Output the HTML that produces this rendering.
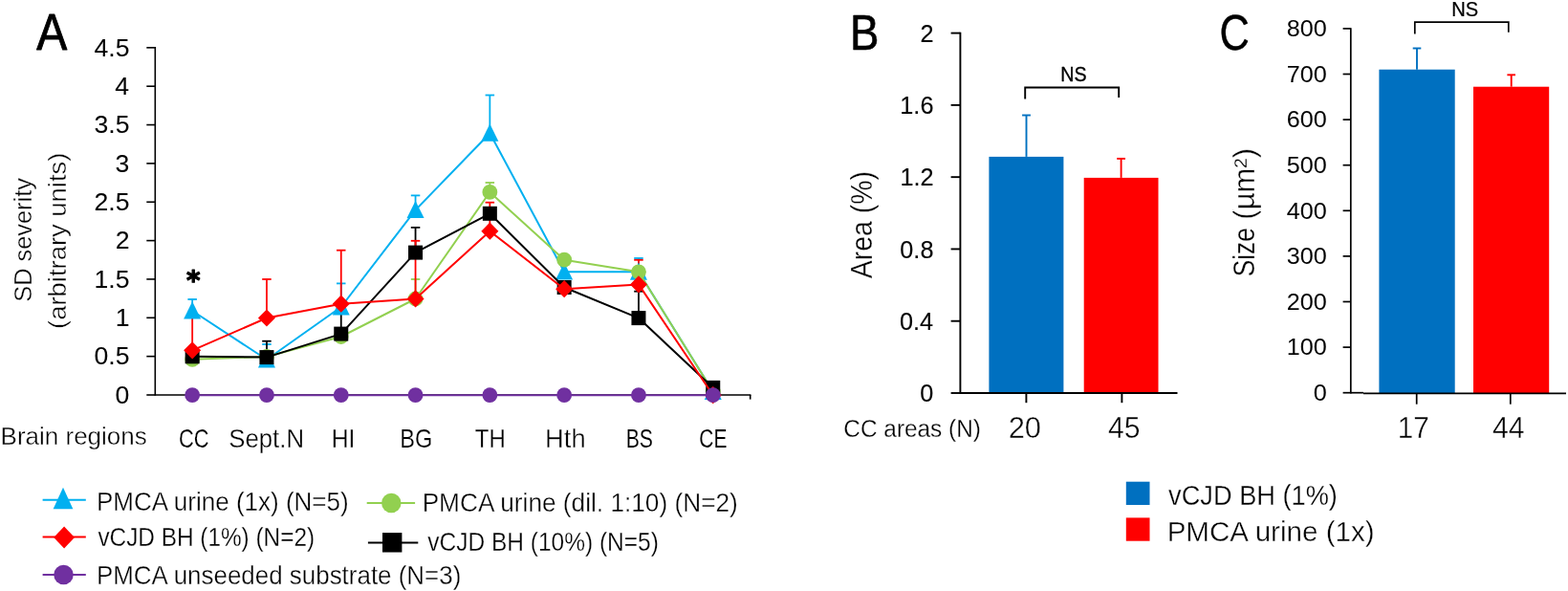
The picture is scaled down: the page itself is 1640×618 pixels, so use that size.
<!DOCTYPE html>
<html lang="en">
<head>
<meta charset="utf-8">
<title>Figure</title>
<style>
html,body{margin:0;padding:0;background:#fff;}
body{width:1640px;height:618px;overflow:hidden;}
svg{display:block;}
svg text{font-family:"Liberation Sans",sans-serif;fill:#000;white-space:pre;}
</style>
</head>
<body>
<svg width="1640" height="618" viewBox="0 0 1640 618">
<rect width="1640" height="618" fill="#fff"/>
<g>
<line x1="162.30" y1="49.00" x2="162.30" y2="413.80" stroke="#000000" stroke-width="1.6" stroke-linecap="butt"/>
<line x1="153.30" y1="413.00" x2="162.30" y2="413.00" stroke="#000000" stroke-width="1.6" stroke-linecap="butt"/>
<line x1="153.30" y1="372.65" x2="162.30" y2="372.65" stroke="#000000" stroke-width="1.6" stroke-linecap="butt"/>
<line x1="153.30" y1="332.30" x2="162.30" y2="332.30" stroke="#000000" stroke-width="1.6" stroke-linecap="butt"/>
<line x1="153.30" y1="291.95" x2="162.30" y2="291.95" stroke="#000000" stroke-width="1.6" stroke-linecap="butt"/>
<line x1="153.30" y1="251.60" x2="162.30" y2="251.60" stroke="#000000" stroke-width="1.6" stroke-linecap="butt"/>
<line x1="153.30" y1="211.25" x2="162.30" y2="211.25" stroke="#000000" stroke-width="1.6" stroke-linecap="butt"/>
<line x1="153.30" y1="170.90" x2="162.30" y2="170.90" stroke="#000000" stroke-width="1.6" stroke-linecap="butt"/>
<line x1="153.30" y1="130.55" x2="162.30" y2="130.55" stroke="#000000" stroke-width="1.6" stroke-linecap="butt"/>
<line x1="153.30" y1="90.20" x2="162.30" y2="90.20" stroke="#000000" stroke-width="1.6" stroke-linecap="butt"/>
<line x1="153.30" y1="49.85" x2="162.30" y2="49.85" stroke="#000000" stroke-width="1.6" stroke-linecap="butt"/>
<line x1="162.30" y1="413.00" x2="785.40" y2="413.00" stroke="#000000" stroke-width="1.6" stroke-linecap="butt"/>
<line x1="784.70" y1="413.00" x2="784.70" y2="417.60" stroke="#000000" stroke-width="1.6" stroke-linecap="butt"/>
<line x1="201.15" y1="325.00" x2="201.15" y2="313.00" stroke="#00B0F0" stroke-width="1.8" stroke-linecap="butt"/>
<line x1="196.40" y1="313.00" x2="205.90" y2="313.00" stroke="#00B0F0" stroke-width="1.8" stroke-linecap="butt"/>
<line x1="278.95" y1="376.00" x2="278.95" y2="360.00" stroke="#00B0F0" stroke-width="1.8" stroke-linecap="butt"/>
<line x1="274.20" y1="360.00" x2="283.70" y2="360.00" stroke="#00B0F0" stroke-width="1.8" stroke-linecap="butt"/>
<line x1="356.75" y1="321.00" x2="356.75" y2="296.40" stroke="#00B0F0" stroke-width="1.8" stroke-linecap="butt"/>
<line x1="352.00" y1="296.40" x2="361.50" y2="296.40" stroke="#00B0F0" stroke-width="1.8" stroke-linecap="butt"/>
<line x1="434.55" y1="219.60" x2="434.55" y2="204.40" stroke="#00B0F0" stroke-width="1.8" stroke-linecap="butt"/>
<line x1="429.80" y1="204.40" x2="439.30" y2="204.40" stroke="#00B0F0" stroke-width="1.8" stroke-linecap="butt"/>
<line x1="512.35" y1="139.30" x2="512.35" y2="99.50" stroke="#00B0F0" stroke-width="1.8" stroke-linecap="butt"/>
<line x1="507.60" y1="99.50" x2="517.10" y2="99.50" stroke="#00B0F0" stroke-width="1.8" stroke-linecap="butt"/>
<line x1="667.95" y1="284.30" x2="667.95" y2="270.00" stroke="#00B0F0" stroke-width="1.8" stroke-linecap="butt"/>
<line x1="663.20" y1="270.00" x2="672.70" y2="270.00" stroke="#00B0F0" stroke-width="1.8" stroke-linecap="butt"/>
<line x1="434.55" y1="312.50" x2="434.55" y2="292.00" stroke="#92D050" stroke-width="1.8" stroke-linecap="butt"/>
<line x1="429.80" y1="292.00" x2="439.30" y2="292.00" stroke="#92D050" stroke-width="1.8" stroke-linecap="butt"/>
<line x1="512.35" y1="200.90" x2="512.35" y2="191.00" stroke="#92D050" stroke-width="1.8" stroke-linecap="butt"/>
<line x1="507.60" y1="191.00" x2="517.10" y2="191.00" stroke="#92D050" stroke-width="1.8" stroke-linecap="butt"/>
<line x1="278.95" y1="373.60" x2="278.95" y2="356.70" stroke="#000000" stroke-width="1.8" stroke-linecap="butt"/>
<line x1="274.20" y1="356.70" x2="283.70" y2="356.70" stroke="#000000" stroke-width="1.8" stroke-linecap="butt"/>
<line x1="356.75" y1="349.10" x2="356.75" y2="324.00" stroke="#000000" stroke-width="1.8" stroke-linecap="butt"/>
<line x1="352.00" y1="324.00" x2="361.50" y2="324.00" stroke="#000000" stroke-width="1.8" stroke-linecap="butt"/>
<line x1="434.55" y1="264.10" x2="434.55" y2="237.90" stroke="#000000" stroke-width="1.8" stroke-linecap="butt"/>
<line x1="429.80" y1="237.90" x2="439.30" y2="237.90" stroke="#000000" stroke-width="1.8" stroke-linecap="butt"/>
<line x1="667.95" y1="332.60" x2="667.95" y2="304.70" stroke="#000000" stroke-width="1.8" stroke-linecap="butt"/>
<line x1="663.20" y1="304.70" x2="672.70" y2="304.70" stroke="#000000" stroke-width="1.8" stroke-linecap="butt"/>
<line x1="201.15" y1="366.30" x2="201.15" y2="329.00" stroke="#FF0000" stroke-width="1.8" stroke-linecap="butt"/>
<line x1="196.40" y1="329.00" x2="205.90" y2="329.00" stroke="#FF0000" stroke-width="1.8" stroke-linecap="butt"/>
<line x1="278.95" y1="332.50" x2="278.95" y2="292.00" stroke="#FF0000" stroke-width="1.8" stroke-linecap="butt"/>
<line x1="274.20" y1="292.00" x2="283.70" y2="292.00" stroke="#FF0000" stroke-width="1.8" stroke-linecap="butt"/>
<line x1="356.75" y1="317.70" x2="356.75" y2="261.70" stroke="#FF0000" stroke-width="1.8" stroke-linecap="butt"/>
<line x1="352.00" y1="261.70" x2="361.50" y2="261.70" stroke="#FF0000" stroke-width="1.8" stroke-linecap="butt"/>
<line x1="434.55" y1="312.40" x2="434.55" y2="251.80" stroke="#FF0000" stroke-width="1.8" stroke-linecap="butt"/>
<line x1="429.80" y1="251.80" x2="439.30" y2="251.80" stroke="#FF0000" stroke-width="1.8" stroke-linecap="butt"/>
<line x1="512.35" y1="241.70" x2="512.35" y2="211.70" stroke="#FF0000" stroke-width="1.8" stroke-linecap="butt"/>
<line x1="507.60" y1="211.70" x2="517.10" y2="211.70" stroke="#FF0000" stroke-width="1.8" stroke-linecap="butt"/>
<line x1="667.95" y1="297.40" x2="667.95" y2="271.80" stroke="#FF0000" stroke-width="1.8" stroke-linecap="butt"/>
<line x1="663.20" y1="271.80" x2="672.70" y2="271.80" stroke="#FF0000" stroke-width="1.8" stroke-linecap="butt"/>
<polyline fill="none" stroke="#00B0F0" stroke-width="2.0" stroke-linejoin="round" points="201.15,325.00 278.95,376.00 356.75,321.00 434.55,219.60 512.35,139.30 590.15,284.20 667.95,284.30 745.75,409.50"/>
<polygon fill="#00B0F0" points="201.15,315.30 210.15,333.40 192.15,333.40"/>
<polygon fill="#00B0F0" points="278.95,366.30 287.95,384.40 269.95,384.40"/>
<polygon fill="#00B0F0" points="356.75,311.30 365.75,329.40 347.75,329.40"/>
<polygon fill="#00B0F0" points="434.55,209.90 443.55,228.00 425.55,228.00"/>
<polygon fill="#00B0F0" points="512.35,129.60 521.35,147.70 503.35,147.70"/>
<polygon fill="#00B0F0" points="590.15,274.50 599.15,292.60 581.15,292.60"/>
<polygon fill="#00B0F0" points="667.95,274.60 676.95,292.70 658.95,292.70"/>
<polygon fill="#00B0F0" points="745.75,399.80 754.75,417.90 736.75,417.90"/>
<polyline fill="none" stroke="#92D050" stroke-width="2.0" stroke-linejoin="round" points="201.15,375.80 278.95,373.00 356.75,352.00 434.55,312.50 512.35,200.90 590.15,271.70 667.95,284.30 745.75,409.50"/>
<circle cx="201.15" cy="375.80" r="7.9" fill="#92D050"/>
<circle cx="278.95" cy="373.00" r="7.9" fill="#92D050"/>
<circle cx="356.75" cy="352.00" r="7.9" fill="#92D050"/>
<circle cx="434.55" cy="312.50" r="7.9" fill="#92D050"/>
<circle cx="512.35" cy="200.90" r="7.9" fill="#92D050"/>
<circle cx="590.15" cy="271.70" r="7.9" fill="#92D050"/>
<circle cx="667.95" cy="284.30" r="7.9" fill="#92D050"/>
<circle cx="745.75" cy="409.50" r="7.9" fill="#92D050"/>
<polyline fill="none" stroke="#000000" stroke-width="2.0" stroke-linejoin="round" points="201.15,372.80 278.95,373.60 356.75,349.10 434.55,264.10 512.35,223.30 590.15,300.50 667.95,332.60 745.75,405.40"/>
<rect x="193.65" y="365.30" width="15.00" height="15.00" fill="#000000"/>
<rect x="271.45" y="366.10" width="15.00" height="15.00" fill="#000000"/>
<rect x="349.25" y="341.60" width="15.00" height="15.00" fill="#000000"/>
<rect x="427.05" y="256.60" width="15.00" height="15.00" fill="#000000"/>
<rect x="504.85" y="215.80" width="15.00" height="15.00" fill="#000000"/>
<rect x="582.65" y="293.00" width="15.00" height="15.00" fill="#000000"/>
<rect x="660.45" y="325.10" width="15.00" height="15.00" fill="#000000"/>
<rect x="738.25" y="397.90" width="15.00" height="15.00" fill="#000000"/>
<polyline fill="none" stroke="#FF0000" stroke-width="2.0" stroke-linejoin="round" points="201.15,366.30 278.95,332.50 356.75,317.70 434.55,312.40 512.35,241.70 590.15,302.20 667.95,297.40 745.75,413.20"/>
<polygon fill="#FF0000" points="201.15,357.20 210.15,366.30 201.15,375.40 192.15,366.30"/>
<polygon fill="#FF0000" points="278.95,323.40 287.95,332.50 278.95,341.60 269.95,332.50"/>
<polygon fill="#FF0000" points="356.75,308.60 365.75,317.70 356.75,326.80 347.75,317.70"/>
<polygon fill="#FF0000" points="434.55,303.30 443.55,312.40 434.55,321.50 425.55,312.40"/>
<polygon fill="#FF0000" points="512.35,232.60 521.35,241.70 512.35,250.80 503.35,241.70"/>
<polygon fill="#FF0000" points="590.15,293.10 599.15,302.20 590.15,311.30 581.15,302.20"/>
<polygon fill="#FF0000" points="667.95,288.30 676.95,297.40 667.95,306.50 658.95,297.40"/>
<polygon fill="#FF0000" points="745.75,404.10 754.75,413.20 745.75,422.30 736.75,413.20"/>
<polyline fill="none" stroke="#7030A0" stroke-width="2.0" stroke-linejoin="round" points="201.15,413.20 278.95,413.20 356.75,413.20 434.55,413.20 512.35,413.20 590.15,413.20 667.95,413.20 745.75,413.20"/>
<circle cx="201.15" cy="413.20" r="7.9" fill="#7030A0"/>
<circle cx="278.95" cy="413.20" r="7.9" fill="#7030A0"/>
<circle cx="356.75" cy="413.20" r="7.9" fill="#7030A0"/>
<circle cx="434.55" cy="413.20" r="7.9" fill="#7030A0"/>
<circle cx="512.35" cy="413.20" r="7.9" fill="#7030A0"/>
<circle cx="590.15" cy="413.20" r="7.9" fill="#7030A0"/>
<circle cx="667.95" cy="413.20" r="7.9" fill="#7030A0"/>
<circle cx="745.75" cy="413.20" r="7.9" fill="#7030A0"/>
<line x1="44.60" y1="522.80" x2="89.80" y2="522.80" stroke="#00B0F0" stroke-width="2" stroke-linecap="butt"/>
<polygon fill="#00B0F0" points="66.00,509.65 76.35,532.35 55.65,532.35"/>
<line x1="44.60" y1="561.60" x2="89.80" y2="561.60" stroke="#FF0000" stroke-width="2" stroke-linecap="butt"/>
<polygon fill="#FF0000" points="67.10,550.55 77.95,562.00 67.10,573.45 56.25,562.00"/>
<line x1="44.60" y1="600.90" x2="89.80" y2="600.90" stroke="#7030A0" stroke-width="2" stroke-linecap="butt"/>
<circle cx="66.50" cy="600.90" r="10.25" fill="#7030A0"/>
<line x1="383.70" y1="526.00" x2="434.10" y2="526.00" stroke="#92D050" stroke-width="2" stroke-linecap="butt"/>
<circle cx="409.30" cy="526.00" r="10.25" fill="#92D050"/>
<line x1="384.90" y1="567.40" x2="437.30" y2="567.40" stroke="#000000" stroke-width="2" stroke-linecap="butt"/>
<rect x="400.00" y="557.10" width="20.40" height="20.40" fill="#000000"/>
<rect x="1034.40" y="163.90" width="78.00" height="247.10" fill="#0070C0"/>
<rect x="1133.70" y="185.90" width="77.80" height="225.10" fill="#FF0000"/>
<line x1="1073.50" y1="163.90" x2="1073.50" y2="120.50" stroke="#0070C0" stroke-width="1.9" stroke-linecap="butt"/>
<line x1="1069.10" y1="120.50" x2="1077.90" y2="120.50" stroke="#0070C0" stroke-width="1.9" stroke-linecap="butt"/>
<line x1="1172.60" y1="185.90" x2="1172.60" y2="165.90" stroke="#FF0000" stroke-width="1.9" stroke-linecap="butt"/>
<line x1="1168.20" y1="165.90" x2="1177.00" y2="165.90" stroke="#FF0000" stroke-width="1.9" stroke-linecap="butt"/>
<line x1="1004.40" y1="33.65" x2="1004.40" y2="411.95" stroke="#000000" stroke-width="1.9" stroke-linecap="butt"/>
<line x1="994.60" y1="411.00" x2="1004.40" y2="411.00" stroke="#000000" stroke-width="1.9" stroke-linecap="butt"/>
<line x1="994.60" y1="335.72" x2="1004.40" y2="335.72" stroke="#000000" stroke-width="1.9" stroke-linecap="butt"/>
<line x1="994.60" y1="260.44" x2="1004.40" y2="260.44" stroke="#000000" stroke-width="1.9" stroke-linecap="butt"/>
<line x1="994.60" y1="185.16" x2="1004.40" y2="185.16" stroke="#000000" stroke-width="1.9" stroke-linecap="butt"/>
<line x1="994.60" y1="109.88" x2="1004.40" y2="109.88" stroke="#000000" stroke-width="1.9" stroke-linecap="butt"/>
<line x1="994.60" y1="34.60" x2="1004.40" y2="34.60" stroke="#000000" stroke-width="1.9" stroke-linecap="butt"/>
<line x1="1004.40" y1="411.00" x2="1231.50" y2="411.00" stroke="#000000" stroke-width="1.9" stroke-linecap="butt"/>
<line x1="1073.40" y1="411.00" x2="1073.40" y2="421.20" stroke="#000000" stroke-width="1.9" stroke-linecap="butt"/>
<line x1="1173.40" y1="411.00" x2="1173.40" y2="421.20" stroke="#000000" stroke-width="1.9" stroke-linecap="butt"/>
<polyline fill="none" stroke="#000" stroke-width="1.9" points="1072.2,103.4 1072.2,91.5 1170.2,91.5 1170.2,102"/>
<rect x="1177.80" y="503.70" width="24.70" height="24.30" fill="#0070C0"/>
<rect x="1177.80" y="541.40" width="24.70" height="24.30" fill="#FF0000"/>
<rect x="1442.40" y="72.70" width="79.30" height="338.30" fill="#0070C0"/>
<rect x="1541.00" y="90.70" width="79.20" height="320.30" fill="#FF0000"/>
<line x1="1482.00" y1="72.70" x2="1482.00" y2="50.50" stroke="#0070C0" stroke-width="1.9" stroke-linecap="butt"/>
<line x1="1477.70" y1="50.50" x2="1486.30" y2="50.50" stroke="#0070C0" stroke-width="1.9" stroke-linecap="butt"/>
<line x1="1580.70" y1="90.70" x2="1580.70" y2="78.30" stroke="#FF0000" stroke-width="1.9" stroke-linecap="butt"/>
<line x1="1576.40" y1="78.30" x2="1585.00" y2="78.30" stroke="#FF0000" stroke-width="1.9" stroke-linecap="butt"/>
<line x1="1412.80" y1="29.15" x2="1412.80" y2="411.55" stroke="#000000" stroke-width="1.7" stroke-linecap="butt"/>
<line x1="1404.60" y1="410.70" x2="1412.80" y2="410.70" stroke="#000000" stroke-width="1.7" stroke-linecap="butt"/>
<line x1="1404.60" y1="363.10" x2="1412.80" y2="363.10" stroke="#000000" stroke-width="1.7" stroke-linecap="butt"/>
<line x1="1404.60" y1="315.50" x2="1412.80" y2="315.50" stroke="#000000" stroke-width="1.7" stroke-linecap="butt"/>
<line x1="1404.60" y1="267.90" x2="1412.80" y2="267.90" stroke="#000000" stroke-width="1.7" stroke-linecap="butt"/>
<line x1="1404.60" y1="220.30" x2="1412.80" y2="220.30" stroke="#000000" stroke-width="1.7" stroke-linecap="butt"/>
<line x1="1404.60" y1="172.70" x2="1412.80" y2="172.70" stroke="#000000" stroke-width="1.7" stroke-linecap="butt"/>
<line x1="1404.60" y1="125.10" x2="1412.80" y2="125.10" stroke="#000000" stroke-width="1.7" stroke-linecap="butt"/>
<line x1="1404.60" y1="77.50" x2="1412.80" y2="77.50" stroke="#000000" stroke-width="1.7" stroke-linecap="butt"/>
<line x1="1404.60" y1="29.90" x2="1412.80" y2="29.90" stroke="#000000" stroke-width="1.7" stroke-linecap="butt"/>
<line x1="1412.80" y1="410.70" x2="1426.00" y2="410.70" stroke="#000000" stroke-width="1.7" stroke-linecap="butt"/>
<line x1="1426.00" y1="411.40" x2="1638.00" y2="411.40" stroke="#000000" stroke-width="1.7" stroke-linecap="butt"/>
<line x1="1481.70" y1="411.00" x2="1481.70" y2="422.70" stroke="#000000" stroke-width="1.7" stroke-linecap="butt"/>
<line x1="1579.80" y1="411.00" x2="1579.80" y2="422.70" stroke="#000000" stroke-width="1.7" stroke-linecap="butt"/>
<polyline fill="none" stroke="#000" stroke-width="1.7" points="1479.8,35.4 1479.8,23.2 1577.8,23.2 1577.8,33.7"/>
</g>
<g>
<text transform="translate(38.37 52.20) scale(0.8865 1)" font-size="54.07" stroke="#000" stroke-width="0.88" stroke-linejoin="round">A</text>
<text transform="translate(889.04 51.70) scale(0.8763 1)" font-size="52.03" stroke="#000" stroke-width="0.66" stroke-linejoin="round">B</text>
<text transform="translate(1275.48 51.90) scale(0.8381 1)" font-size="51.80" stroke="#000" stroke-width="0.47" stroke-linejoin="round">C</text>
<text transform="translate(120.44 421.80) scale(1.0000 1)" font-size="26.60" stroke="#000" stroke-width="0.05" stroke-linejoin="round">0</text>
<text transform="translate(98.45 381.45) scale(1.0000 1)" font-size="26.60" stroke="#000" stroke-width="0.05" stroke-linejoin="round">0.5</text>
<text transform="translate(120.80 341.10) scale(1.0000 1)" font-size="26.60" stroke="#000" stroke-width="0.05" stroke-linejoin="round">1</text>
<text transform="translate(98.45 300.75) scale(1.0000 1)" font-size="26.60" stroke="#000" stroke-width="0.05" stroke-linejoin="round">1.5</text>
<text transform="translate(120.80 260.40) scale(1.0000 1)" font-size="26.60" stroke="#000" stroke-width="0.05" stroke-linejoin="round">2</text>
<text transform="translate(98.45 220.05) scale(1.0000 1)" font-size="26.60" stroke="#000" stroke-width="0.05" stroke-linejoin="round">2.5</text>
<text transform="translate(120.62 179.70) scale(1.0000 1)" font-size="26.60" stroke="#000" stroke-width="0.05" stroke-linejoin="round">3</text>
<text transform="translate(98.45 139.35) scale(1.0000 1)" font-size="26.60" stroke="#000" stroke-width="0.05" stroke-linejoin="round">3.5</text>
<text transform="translate(120.26 99.00) scale(1.0000 1)" font-size="26.60" stroke="#000" stroke-width="0.05" stroke-linejoin="round">4</text>
<text transform="translate(98.45 58.65) scale(1.0000 1)" font-size="26.60" stroke="#000" stroke-width="0.05" stroke-linejoin="round">4.5</text>
<text transform="translate(33.20 315.74) rotate(-90) scale(0.9613 1)" font-size="26.40" stroke="#fff" stroke-width="0.33">SD severity</text>
<text transform="translate(69.20 343.96) rotate(-90) scale(1.0395 1)" font-size="26.40" stroke="#fff" stroke-width="0.41">(arbitrary units)</text>
<text transform="translate(0.62 464.90) scale(1.0339 1)" font-size="25.15" stroke="#fff" stroke-width="0.38">Brain regions</text>
<text transform="translate(187.07 467.70) scale(0.8032 1)" font-size="27.20" stroke="#fff" stroke-width="0.15">CC</text>
<text transform="translate(239.24 467.70) scale(0.9473 1)" font-size="27.20" stroke="#fff" stroke-width="0.32">Sept.N</text>
<text transform="translate(346.81 467.70) scale(0.9050 1)" font-size="27.20" stroke="#fff" stroke-width="0.27">HI</text>
<text transform="translate(418.32 467.70) scale(0.8657 1)" font-size="27.20" stroke="#fff" stroke-width="0.23">BG</text>
<text transform="translate(496.81 467.70) scale(0.8829 1)" font-size="27.20" stroke="#fff" stroke-width="0.25">TH</text>
<text transform="translate(570.12 467.70) scale(1.0037 1)" font-size="27.20" stroke="#fff" stroke-width="0.38">Hth</text>
<text transform="translate(654.66 467.70) scale(0.7797 1)" font-size="27.20" stroke="#fff" stroke-width="0.12">BS</text>
<text transform="translate(731.34 467.70) scale(0.7698 1)" font-size="27.20" stroke="#fff" stroke-width="0.10">CE</text>
<text transform="translate(100.96 534.00) scale(0.9634 1)" font-size="27.00" stroke="#fff" stroke-width="0.34">PMCA urine (1x) (N=5)</text>
<text transform="translate(102.42 570.90) scale(0.9025 1)" font-size="27.00" stroke="#fff" stroke-width="0.27">vCJD BH (1%) (N=2)</text>
<text transform="translate(100.96 611.30) scale(0.9611 1)" font-size="27.00" stroke="#fff" stroke-width="0.34">PMCA unseeded substrate (N=3)</text>
<text transform="translate(441.63 535.20) scale(0.9720 1)" font-size="27.00" stroke="#fff" stroke-width="0.35">PMCA urine (dil. 1:10) (N=2)</text>
<text transform="translate(447.31 575.50) scale(0.9075 1)" font-size="27.00" stroke="#fff" stroke-width="0.28">vCJD BH (10%) (N=5)</text>
<text transform="translate(962.20 420.30) scale(0.9500 1)" font-size="26.60" stroke="#000" stroke-width="0.12" stroke-linejoin="round">0</text>
<text transform="translate(940.98 345.02) scale(0.9500 1)" font-size="26.60" stroke="#000" stroke-width="0.12" stroke-linejoin="round">0.4</text>
<text transform="translate(941.31 269.74) scale(0.9500 1)" font-size="26.60" stroke="#000" stroke-width="0.12" stroke-linejoin="round">0.8</text>
<text transform="translate(941.48 194.46) scale(0.9500 1)" font-size="26.60" stroke="#000" stroke-width="0.12" stroke-linejoin="round">1.2</text>
<text transform="translate(941.31 119.18) scale(0.9500 1)" font-size="26.60" stroke="#000" stroke-width="0.12" stroke-linejoin="round">1.6</text>
<text transform="translate(962.54 43.90) scale(0.9500 1)" font-size="26.60" stroke="#000" stroke-width="0.12" stroke-linejoin="round">2</text>
<text transform="translate(912.20 291.23) rotate(-90) scale(0.9010 1)" font-size="31.60" stroke="#fff" stroke-width="0.31">Area (%)</text>
<text transform="translate(1109.17 85.10) scale(0.8948 1)" font-size="22.00" stroke="#000" stroke-width="0.33" stroke-linejoin="round">NS</text>
<text transform="translate(882.37 456.60) scale(0.9166 1)" font-size="26.60" stroke="#fff" stroke-width="0.28">CC areas (N)</text>
<text transform="translate(1054.63 457.80) scale(1.0005 1)" font-size="30.90" stroke="#fff" stroke-width="0.43">20</text>
<text transform="translate(1159.00 457.80) scale(0.9769 1)" font-size="30.90" stroke="#fff" stroke-width="0.40">45</text>
<text transform="translate(1373.70 419.00) scale(1.0500 1)" font-size="24.00">0</text>
<text transform="translate(1345.81 371.40) scale(1.0500 1)" font-size="24.00">100</text>
<text transform="translate(1345.81 323.80) scale(1.0500 1)" font-size="24.00">200</text>
<text transform="translate(1345.81 276.20) scale(1.0500 1)" font-size="24.00">300</text>
<text transform="translate(1345.81 228.60) scale(1.0500 1)" font-size="24.00">400</text>
<text transform="translate(1345.81 181.00) scale(1.0500 1)" font-size="24.00">500</text>
<text transform="translate(1345.81 133.40) scale(1.0500 1)" font-size="24.00">600</text>
<text transform="translate(1345.81 85.80) scale(1.0500 1)" font-size="24.00">700</text>
<text transform="translate(1345.81 38.20) scale(1.0500 1)" font-size="24.00">800</text>
<text transform="translate(1312.00 289.23) rotate(-90) scale(0.8476 1)" font-size="31.00" stroke="#fff" stroke-width="0.23">Size</text>
<text transform="translate(1312.00 229.68) rotate(-90) scale(1.0007 1)" font-size="31.00" stroke="#fff" stroke-width="0.43">(µm²)</text>
<text transform="translate(1518.30 16.60) scale(0.9459 1)" font-size="21.30" stroke="#000" stroke-width="0.23" stroke-linejoin="round">NS</text>
<text transform="translate(1461.63 457.80) scale(0.9634 1)" font-size="30.90" stroke="#fff" stroke-width="0.39">17</text>
<text transform="translate(1560.99 457.80) scale(0.9800 1)" font-size="30.90" stroke="#fff" stroke-width="0.41">44</text>
<text transform="translate(1222.08 528.30) scale(0.9011 1)" font-size="30.20" stroke="#fff" stroke-width="0.30">vCJD BH (1%)</text>
<text transform="translate(1220.64 565.60) scale(0.9800 1)" font-size="30.20" stroke="#fff" stroke-width="0.40">PMCA urine (1x)</text>
<text transform="translate(194.95 303.30) scale(0.955 1)" stroke="#000" stroke-width="1.2" stroke-linejoin="round" style="font-family:'DejaVu Sans','Liberation Sans',sans-serif" font-weight="bold" font-size="29">*</text>
</g>
</svg>
</body>
</html>
